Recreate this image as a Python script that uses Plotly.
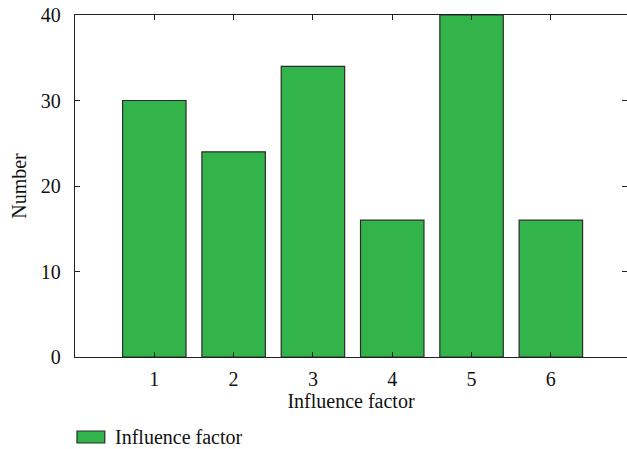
import plotly.graph_objects as go

factors = [1, 2, 3, 4, 5, 6]
counts = [30, 24, 34, 16, 40, 16]
y_ticks = [0, 10, 20, 30, 40]
series_name = "Influence factor"

FONT = "Liberation Serif"
FS = 20
GREEN = "#33b44b"
EDGE = "#2b2b2b"

fig = go.Figure()
fig.add_trace(go.Bar(
    x=factors, y=counts, width=0.8,
    name=series_name,
    marker=dict(color=GREEN, line=dict(color=EDGE, width=1.2)),
    showlegend=False,
))

axis_common = dict(
    showline=True, linecolor="#222", linewidth=1.3,
    ticks="inside", ticklen=5, tickcolor="#222", tickwidth=1,
    mirror="ticks", showgrid=False, zeroline=False,
    tickfont=dict(family=FONT, size=FS, color="#111"),
)

fig.update_layout(
    width=627, height=449,
    margin=dict(l=75, r=0, t=15, b=92, autoexpand=False),
    plot_bgcolor="white", paper_bgcolor="white",
    font=dict(family=FONT, size=FS, color="#111"),
    xaxis=dict(range=[0, 6.96], tickvals=factors, ticklabelstandoff=4,
               title=dict(text="Influence factor", standoff=3,
                          font=dict(family=FONT, size=FS)),
               **axis_common),
    yaxis=dict(range=[0, 40], tickvals=y_ticks, ticklabelstandoff=9,
               title=dict(text="Number", standoff=8,
                          font=dict(family=FONT, size=FS)),
               **axis_common),
    showlegend=False,
)

# Legend key below the plot: swatch plus label
fig.add_shape(type="rect", xref="paper", yref="paper",
              x0=0.0036, x1=0.054, y0=-0.2515, y1=-0.2164,
              fillcolor=GREEN, line=dict(color=EDGE, width=1.2))
fig.add_annotation(text=series_name, xref="paper", yref="paper",
                   x=0.0688, y=-0.234, xanchor="left", yanchor="middle",
                   showarrow=False, font=dict(family=FONT, size=FS, color="#111"))

fig.write_html("out.html")
